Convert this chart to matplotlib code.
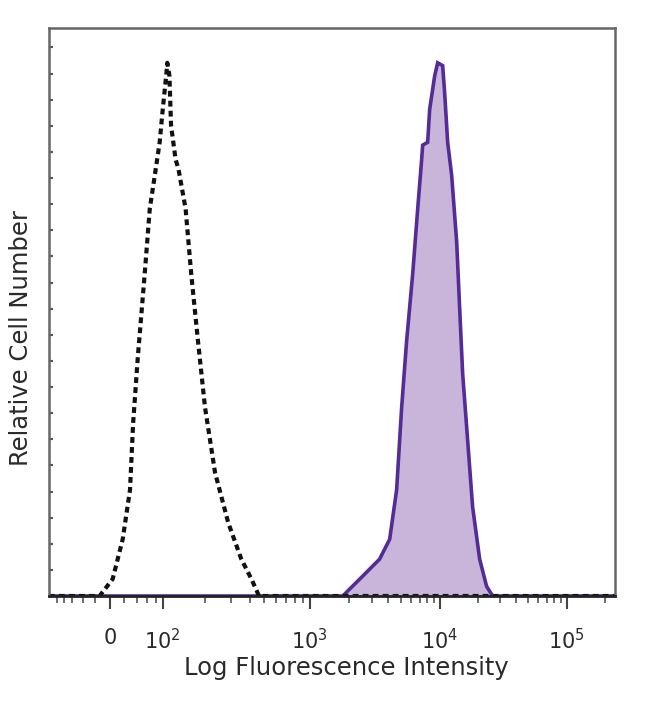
import numpy as np
import matplotlib
matplotlib.use("Agg")
import matplotlib.pyplot as plt

# isotype control (dashed) - intensity vs relative count
ctrl_x = [-114, -14, 4, 18, 29, 34, 42, 55, 66, 78, 91, 100, 106, 108, 112, 115, 124, 130,
          146, 160, 178, 199, 233, 286, 350, 409, 460, 240000]
ctrl_y = [0, 0, 3.0, 10.0, 18.7, 30.4, 42.0, 56.6, 68.2, 74.1, 79.9, 85.7, 91.6, 93.9,
          91.6, 82.9, 76.9, 75.2, 68.2, 56.6, 44.9, 33.2, 21.7, 12.9, 6.5, 3.0, 0, 0]

# stained sample (filled purple)
stain_x = [-114, 1800, 1926, 2558, 3452, 4125, 4666, 5100, 5568, 6196, 6778, 7271, 7400,
           8086, 8377, 9154, 9652, 10558, 10950, 11560, 12430, 13610, 14370, 15170,
           16610, 18180, 20650, 23420, 26140, 240000]
stain_y = [0, 0, 0.7, 3.5, 6.5, 10.0, 18.7, 33.2, 44.9, 56.6, 68.2, 76.9, 79.4, 79.9,
           85.7, 91.6, 93.9, 93.4, 88.6, 79.9, 74.1, 62.4, 50.7, 39.2, 27.4, 15.7,
           6.5, 1.7, 0, 0]

major_ticks = [0, 100, 1000, 10000, 100000]
major_labels = ["0", "$10^2$", "$10^3$", "$10^4$", "$10^5$"]

# logicle-like axis: piecewise in asinh space
W = 50.0
anchor_vals = np.array([-1000, -100, 0, 100, 1e3, 1e4, 1e5, 1e6])
anchor_pos = np.array([-200, -53, 0, 53, 200, 330, 457, 584], dtype=float)
anchor_a = np.arcsinh(anchor_vals / W)


def forward(x):
    return np.interp(np.arcsinh(np.asarray(x, dtype=float) / W), anchor_a, anchor_pos)


def inverse(p):
    return W * np.sinh(np.interp(np.asarray(p, dtype=float), anchor_pos, anchor_a))


fig = plt.figure(figsize=(6.5, 7.04), dpi=100)
ax = fig.add_axes([0.0754, 0.1534, 0.8706, 0.8066])
ax.set_xscale("function", functions=(forward, inverse))

ax.fill_between(stain_x, stain_y, 0, color="#c9b4da", lw=0)
ax.plot(stain_x, stain_y, color="#532c95", lw=2.6, solid_joinstyle="miter")
ax.plot(ctrl_x, ctrl_y, color="#111111", lw=3.0, ls=(0, (1.4, 1.0)))

ax.set_xlim(-114, 240000)
ax.set_ylim(0, 100)

minor = [-v for v in range(20, 110, 20)] + list(range(20, 100, 20))
for d in [100, 1000, 10000, 100000]:
    minor += [k * d for k in range(2, 10)]
minor = [m for m in minor if -114 <= m <= 240000]
ax.set_xticks(major_ticks)
ax.set_xticklabels(major_labels)
ax.set_xticks(minor, minor=True)
ax.tick_params(axis="x", which="major", direction="out", length=9, width=1.5,
               color="#444444", labelsize=15, labelcolor="#2a2a2a", pad=14)
ax.tick_params(axis="x", which="minor", direction="out", length=5, width=1.2,
               color="#555555")

ax.set_yticks(np.arange(0, 101, 4.6))
ax.set_yticklabels([])
ax.tick_params(axis="y", which="major", direction="in", length=3, width=1.5,
               color="#555555")

for side in ["left", "top", "right"]:
    ax.spines[side].set_color("#666666")
    ax.spines[side].set_linewidth(1.8)
ax.spines["bottom"].set_color("#222222")
ax.spines["bottom"].set_linewidth(2)

ax.set_xlabel("Log Fluorescence Intensity", fontsize=17.5, color="#2a2a2a", labelpad=2)
ax.set_ylabel("Relative Cell Number", fontsize=17.5, color="#2a2a2a", labelpad=8)
ax.xaxis.label.set_x(0.525)
ax.yaxis.label.set_y(0.455)

fig.savefig("out.png", dpi=100)
